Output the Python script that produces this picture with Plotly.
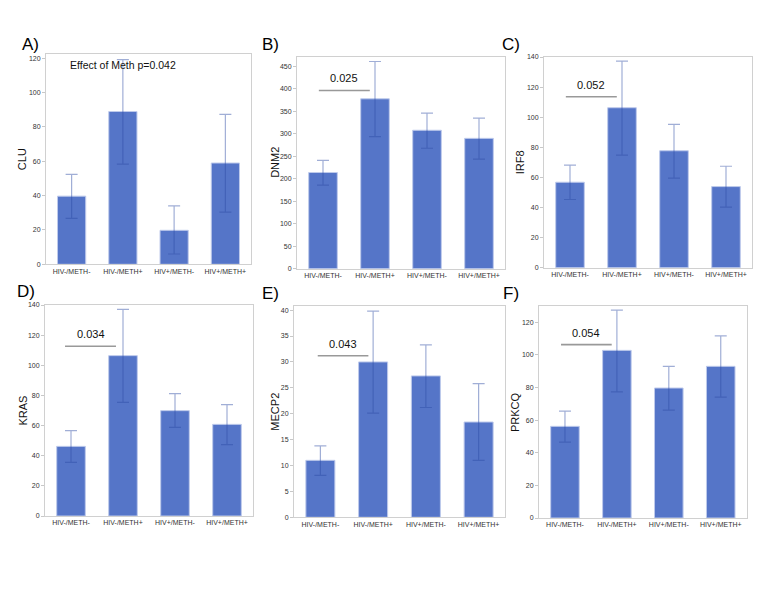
import plotly.graph_objects as go

categories = ["HIV-/METH-", "HIV-/METH+", "HIV+/METH-", "HIV+/METH+"]

genes = ["CLU", "DNM2", "IRF8", "KRAS", "MECP2", "PRKCQ"]
panel_labels = ["A)", "B)", "C)", "D)", "E)", "F)"]

clu_mean = [39.7, 89.0, 19.8, 59.0]
clu_upper = [52.4, 119.2, 34.0, 87.3]
clu_lower = [26.8, 58.3, 6.0, 30.4]

dnm2_mean = [214, 378, 308, 290]
dnm2_upper = [241, 461, 346, 335]
dnm2_lower = [186, 294, 268, 244]

irf8_mean = [56.8, 106.3, 77.7, 53.9]
irf8_upper = [68.1, 137.2, 95.2, 67.4]
irf8_lower = [45.3, 74.8, 59.5, 40.2]

kras_mean = [46.2, 106.4, 69.9, 60.8]
kras_upper = [56.6, 137.1, 81.2, 73.9]
kras_lower = [35.6, 75.4, 58.8, 47.3]

mecp2_mean = [11.0, 30.0, 27.3, 18.4]
mecp2_upper = [13.8, 39.8, 33.3, 25.8]
mecp2_lower = [8.1, 20.1, 21.2, 11.0]

prkcq_mean = [56.2, 102.8, 79.7, 93.0]
prkcq_upper = [65.5, 127.5, 93.0, 111.7]
prkcq_lower = [46.5, 77.4, 66.1, 74.1]

means = [clu_mean, dnm2_mean, irf8_mean, kras_mean, mecp2_mean, prkcq_mean]
uppers = [clu_upper, dnm2_upper, irf8_upper, kras_upper, mecp2_upper, prkcq_upper]
lowers = [clu_lower, dnm2_lower, irf8_lower, kras_lower, mecp2_lower, prkcq_lower]

y_max = [122.5, 471, 140.2, 140, 40.8, 130]
y_dtick = [20, 50, 20, 20, 5, 20]

p_labels = ["Effect of Meth p=0.042", "0.025", "0.052", "0.034", "0.043", "0.054"]
bracket_y = [None, 396.5, 113.6, 112.6, 31.2, 106.3]
bracket_x = [None, (-0.08, 0.90), (-0.08, 0.90), (-0.115, 0.865), (-0.05, 0.91), (-0.076, 0.90)]

# page body has an 8px margin; figure is placed at (8, 8)
OFF = 8
W, H = 762 - OFF, 595 - OFF


def px(x):
    return (x - OFF) / W


def py(y):
    return 1 - (y - OFF) / H


# plot boxes in window pixels: x0, x1, y_top, y_bottom
boxes = [
    (46, 251, 54, 264.3),
    (297, 505, 57, 268.7),
    (544, 752, 56.7, 267.7),
    (45, 253, 305, 516),
    (294, 505, 306, 517.3),
    (539, 746.7, 306, 518),
]
label_pos = [(30, 44), (270, 44), (511, 45), (26, 292), (270, 293), (511, 294)]
title_x = [22, 275, 520, 22, 275, 515]

fig = go.Figure()
bar_color = "rgba(70,105,195,0.92)"
err_color = "rgba(45,75,165,0.45)"
font_family = "Liberation Sans, Arial, sans-serif"

for i in range(6):
    ax = "" if i == 0 else str(i + 1)
    err_plus = [u - m for u, m in zip(uppers[i], means[i])]
    err_minus = [m - l for m, l in zip(means[i], lowers[i])]
    fig.add_trace(go.Bar(
        x=categories, y=means[i],
        xaxis="x" + ax, yaxis="y" + ax,
        marker=dict(color=bar_color, line=dict(color="rgba(190,202,235,1)", width=1)),
        error_y=dict(type="data", symmetric=False, array=err_plus, arrayminus=err_minus,
                     color=err_color, thickness=1.2, width=6),
        showlegend=False,
    ))
    x0, x1, yt, yb = boxes[i]
    common = dict(showline=True, mirror=True, linecolor="#d0d0d0", linewidth=1,
                  showgrid=False, zeroline=False, automargin=False,
                  tickcolor="#c8c8c8", tickfont=dict(family=font_family, size=7, color="#333"))
    fig.layout["xaxis" + ax] = dict(domain=[px(x0), px(x1)], anchor="y" + ax,
                                    range=[-0.5, 3.5], ticks="", **common)
    fig.layout["yaxis" + ax] = dict(domain=[py(yb), py(yt)], anchor="x" + ax,
                                    range=[0, y_max[i]], dtick=y_dtick[i],
                                    ticks="outside", ticklen=3, **common)
    # y axis title
    fig.add_annotation(text=genes[i], xref="paper", yref="paper",
                       x=px(title_x[i]), y=py((yt + yb) / 2), textangle=-90,
                       showarrow=False, xanchor="center", yanchor="middle",
                       font=dict(family=font_family, size=11, color="#111"))
    # panel label
    lx, ly = label_pos[i]
    fig.add_annotation(text=panel_labels[i], xref="paper", yref="paper",
                       x=px(lx), y=py(ly), showarrow=False,
                       xanchor="center", yanchor="middle",
                       font=dict(family=font_family, size=17, color="#000"))
    if i == 0:
        fig.add_annotation(text=p_labels[i], xref="x", yref="y", x=-0.08, y=116.3,
                           showarrow=False, xanchor="left", yanchor="middle",
                           font=dict(family=font_family, size=10.5, color="#111"))
    else:
        bx0, bx1 = bracket_x[i]
        by = bracket_y[i]
        fig.add_shape(type="line", xref="x" + ax, yref="y" + ax, x0=bx0, x1=bx1, y0=by, y1=by,
                      line=dict(color="#999999", width=1.6))
        fig.add_annotation(text=p_labels[i], xref="x" + ax, yref="y" + ax,
                           x=(bx0 + bx1) / 2, y=by, yshift=12, showarrow=False,
                           xanchor="center", yanchor="middle",
                           font=dict(family=font_family, size=11, color="#111"))

fig.update_layout(width=W, height=H, margin=dict(l=0, r=0, t=0, b=0, autoexpand=False),
                  paper_bgcolor="white", plot_bgcolor="white", bargap=0.45)
fig.write_html("out.html")
